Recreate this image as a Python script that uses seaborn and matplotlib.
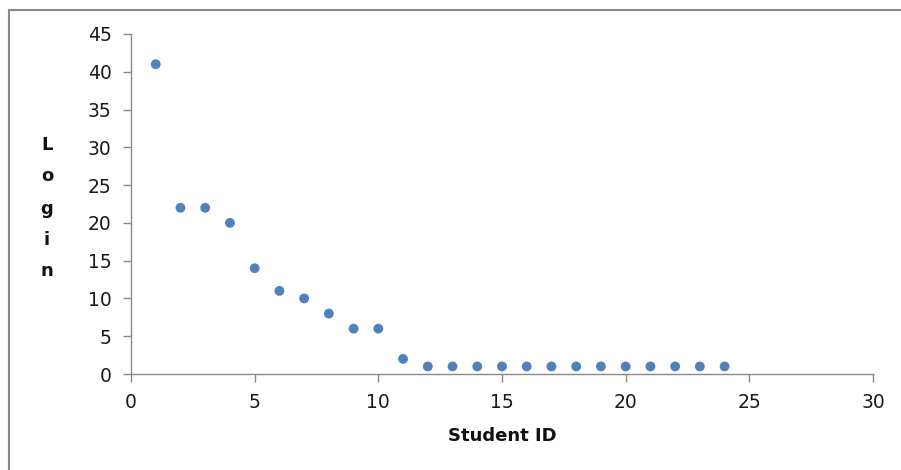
import matplotlib
matplotlib.use("Agg")
import matplotlib.pyplot as plt
import seaborn as sns
import pandas as pd
from matplotlib.lines import Line2D

# data
student_id = list(range(1, 25))
logins = [41, 22, 22, 20, 14, 11, 10, 8, 6, 6, 2,
          1, 1, 1, 1, 1, 1, 1, 1, 1, 1, 1, 1, 1]
x_ticks = [0, 5, 10, 15, 20, 25, 30]
y_ticks = [0, 5, 10, 15, 20, 25, 30, 35, 40, 45]

sns.set_style("white")
plt.rcParams["font.family"] = ["DejaVu Sans"]

df = pd.DataFrame({"Student ID": student_id, "Login": logins})

fig = plt.figure(figsize=(9.01, 4.70), dpi=100)
ax = fig.add_axes([131 / 901, 1 - 374 / 470, (873 - 131) / 901, (374 - 34) / 470])

sns.scatterplot(data=df, x="Student ID", y="Login", ax=ax,
                color="#4F81BD", s=50, edgecolor="none", marker="o")

ax.set_xlim(0, 30)
ax.set_ylim(0, 45)
ax.set_xticks(x_ticks)
ax.set_yticks(y_ticks)
ax.tick_params(axis="both", direction="out", length=6, width=1, color="#888888",
               labelsize=13.5, labelcolor="#1a1a1a", bottom=True, left=True, pad=8)
for side in ["top", "right"]:
    ax.spines[side].set_visible(False)
for side in ["left", "bottom"]:
    ax.spines[side].set_color("#888888")
    ax.spines[side].set_linewidth(1)
ax.set_xlabel("")
ax.set_ylabel("")

# x label
fig.text(502 / 901, 1 - 436 / 470, "Student ID", ha="center", va="center",
         fontsize=13, fontweight="bold", color="#111111")

# stacked y label
for letter, ypix in zip("Login", [145, 176, 209, 240, 271]):
    fig.text(47 / 901, 1 - ypix / 470, letter, ha="center", va="center",
             fontsize=13, fontweight="bold", color="#111111")

# outer frame (left and top only visible in the reference)
fig.add_artist(Line2D([9 / 901, 9 / 901], [0, 1 - 10 / 470], transform=fig.transFigure,
                      color="#888888", lw=1.5))
fig.add_artist(Line2D([9 / 901, 1], [1 - 10 / 470, 1 - 10 / 470], transform=fig.transFigure,
                      color="#888888", lw=1.5))

fig.savefig("out.png", dpi=100)
